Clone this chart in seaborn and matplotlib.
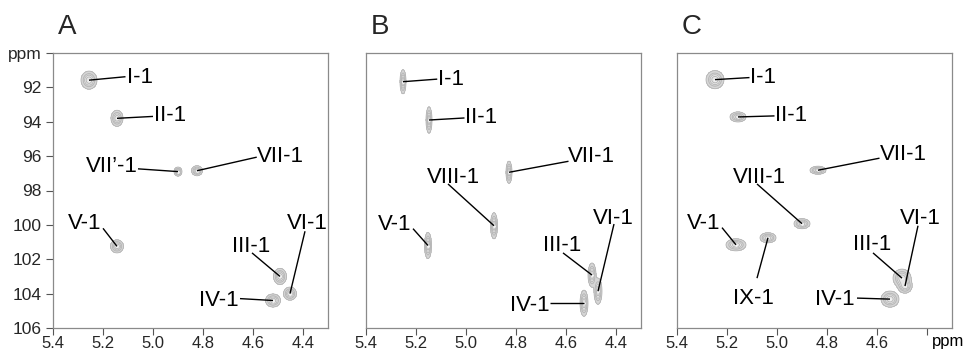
import numpy as np
import pandas as pd
import matplotlib
matplotlib.use("Agg")
import matplotlib.pyplot as plt
import matplotlib.transforms as mtransforms
import seaborn as sns

# ---------------- data ----------------
panel_names = ["A", "B", "C"]

a_labels = ["I-1", "II-1", "VII\u2019-1", "VII-1", "V-1", "III-1", "VI-1", "IV-1"]
a_h = [5.256, 5.144, 4.900, 4.824, 5.144, 4.492, 4.452, 4.520]      # 1H ppm
a_c = [91.58, 93.80, 96.90, 96.85, 101.25, 103.00, 104.00, 104.40]  # 13C ppm
a_wh = [0.0149, 0.0112, 0.0074, 0.0102, 0.0121, 0.0121, 0.0121, 0.0140]  # 1H linewidth
a_wc = [0.245, 0.218, 0.123, 0.136, 0.177, 0.218, 0.177, 0.177]          # 13C linewidth

b_labels = ["I-1", "II-1", "VII-1", "VIII-1", "V-1", "III-1", "VI-1", "IV-1"]
b_h = [5.252, 5.148, 4.828, 4.888, 5.152, 4.496, 4.472, 4.528]
b_c = [91.67, 93.90, 96.94, 100.05, 101.20, 102.92, 103.86, 104.56]
b_wh = [0.0056, 0.0056, 0.0056, 0.0065, 0.0065, 0.0074, 0.0074, 0.0074]
b_wc = [0.327, 0.354, 0.300, 0.354, 0.354, 0.327, 0.354, 0.354]

c_labels = ["I-1", "II-1", "VII-1", "VIII-1", "V-1", "IX-1", "III-1", "VI-1", "IV-1"]
c_h = [5.248, 5.156, 4.836, 4.900, 5.164, 5.036, 4.500, 4.488, 4.548]
c_c = [91.55, 93.72, 96.82, 99.93, 101.16, 100.75, 103.10, 103.56, 104.32]
c_wh = [0.0167, 0.0149, 0.0149, 0.0149, 0.0186, 0.0149, 0.0167, 0.0130, 0.0167]
c_wc = [0.245, 0.136, 0.109, 0.136, 0.163, 0.136, 0.245, 0.191, 0.218]

x_ticks = [5.4, 5.2, 5.0, 4.8, 4.6, 4.4]
x_ticklabels = ["5.4", "5.2", "5.0", "4.8", "4.6", "4.4"]
y_ticks = [90, 92, 94, 96, 98, 100, 102, 104, 106]
y_ticklabels = ["ppm", "92", "94", "96", "98", "100", "102", "104", "106"]

# label placement: label -> (text x, text baseline y, ha, leader start x, leader start y)
a_place = {
    "I-1": (5.105, 91.73, "left", 5.110, 91.38),
    "II-1": (4.996, 93.95, "left", 5.000, 93.69),
    "VII\u2019-1": (5.062, 96.92, "right", 5.060, 96.74),
    "VII-1": (4.584, 96.36, "left", 4.585, 96.06),
    "V-1": (5.340, 100.22, "left", 5.200, 100.20),
    "III-1": (4.684, 101.57, "left", 4.604, 101.63),
    "VI-1": (4.464, 100.22, "left", 4.392, 100.37),
    "IV-1": (4.816, 104.74, "left", 4.652, 104.29),
}
b_place = {
    "I-1": (5.112, 91.85, "left", 5.115, 91.52),
    "II-1": (5.004, 94.07, "left", 5.006, 93.78),
    "VII-1": (4.592, 96.36, "left", 4.590, 96.30),
    "VIII-1": (5.156, 97.59, "left", 5.072, 97.62),
    "V-1": (5.352, 100.28, "left", 5.212, 100.22),
    "III-1": (4.692, 101.51, "left", 4.612, 101.63),
    "VI-1": (4.492, 99.93, "left", 4.408, 99.95),
    "IV-1": (4.824, 105.03, "left", 4.664, 104.56),
}
c_place = {
    "I-1": (5.108, 91.73, "left", 5.110, 91.43),
    "II-1": (5.008, 93.95, "left", 5.010, 93.66),
    "VII-1": (4.588, 96.24, "left", 4.590, 96.12),
    "VIII-1": (5.176, 97.59, "left", 5.080, 97.62),
    "V-1": (5.360, 100.22, "left", 5.220, 100.16),
    "IX-1": (5.176, 104.62, "left", 5.080, 103.10),
    "III-1": (4.696, 101.45, "left", 4.616, 101.63),
    "VI-1": (4.508, 99.93, "left", 4.436, 100.05),
    "IV-1": (4.848, 104.68, "left", 4.680, 104.26),
}

# ---------------- style ----------------
sns.set_style("white")
plt.rcParams["font.family"] = ["Liberation Sans", "DejaVu Sans"]

fig = plt.figure(figsize=(9.68, 3.5), dpi=100)
lefts = [53, 366, 677]
axes = [fig.add_axes([l / 968, 22 / 350, 275 / 968, 275 / 350]) for l in lefts]

panels = [
    (a_labels, a_h, a_c, a_wh, a_wc, a_place),
    (b_labels, b_h, b_c, b_wh, b_wc, b_place),
    (c_labels, c_h, c_c, c_wh, c_wc, c_place),
]

gx = np.linspace(5.4, 4.3, 1400)
gy = np.linspace(90, 106, 900)
GX, GY = np.meshgrid(gx, gy)

title_x = [67, 380, 692]

for i, (ax, (labs, hs, cs, whs, wcs, place)) in enumerate(zip(axes, panels)):
    df = pd.DataFrame({"label": labs, "h": hs, "c": cs, "wh": whs, "wc": wcs})
    Z = np.zeros_like(GX)
    for _, r in df.iterrows():
        Z += np.exp(-0.5 * (((GX - r.h) / r.wh) ** 2 + ((GY - r.c) / r.wc) ** 2))
    ax.contourf(GX, GY, Z, levels=[0.1, 0.5, 10], colors=["#d6d6d6", "#e6e6e6"])
    ax.contour(GX, GY, Z, levels=[0.1, 0.3, 0.5, 0.75],
               colors="#b4b4b4", linewidths=0.6)
    sns.scatterplot(data=df, x="h", y="c", ax=ax, color="#f4f4f4", s=4,
                    linewidth=0, legend=False, zorder=3)

    for _, r in df.iterrows():
        tx, ty, ha, lx, ly = place[r.label]
        ax.plot([lx, r.h], [ly, r.c], color="black", lw=1.0, zorder=4,
                solid_capstyle="butt")
        ax.text(tx, ty, r.label, ha=ha, va="baseline", fontsize=16,
                color="black", zorder=5, clip_on=False)

    ax.set_xlim(5.4, 4.3)
    ax.set_ylim(106, 90)
    ax.set_xlabel("")
    ax.set_ylabel("")
    ax.set_xticks(x_ticks)
    if i == 2:
        ax.set_xticklabels(x_ticklabels[:-1] + [""])
        trans = mtransforms.blended_transform_factory(ax.transData, ax.transAxes)
        ax.text(4.316, -0.022, "ppm", transform=trans, ha="center", va="top",
                fontsize=12, color="black")
    else:
        ax.set_xticklabels(x_ticklabels)
    if i == 0:
        ax.set_yticks(y_ticks)
        ax.set_yticklabels(y_ticklabels)
        ax.tick_params(axis="y", left=True, length=5, width=0.8, color="#555555",
                       pad=3, labelsize=12.5, direction="out")
    else:
        ax.set_yticks([])
    ax.tick_params(axis="x", bottom=True, length=5, width=0.8, color="#555555",
                   pad=0.5, labelsize=12, direction="out")
    for s in ax.spines.values():
        s.set_color("#8a8a8a")
        s.set_linewidth(0.9)
        s.set_visible(True)
    fig.text(title_x[i] / 968, 1 - 27 / 350, panel_names[i], ha="center",
             va="center", fontsize=20)

fig.savefig("out.png", dpi=100)
